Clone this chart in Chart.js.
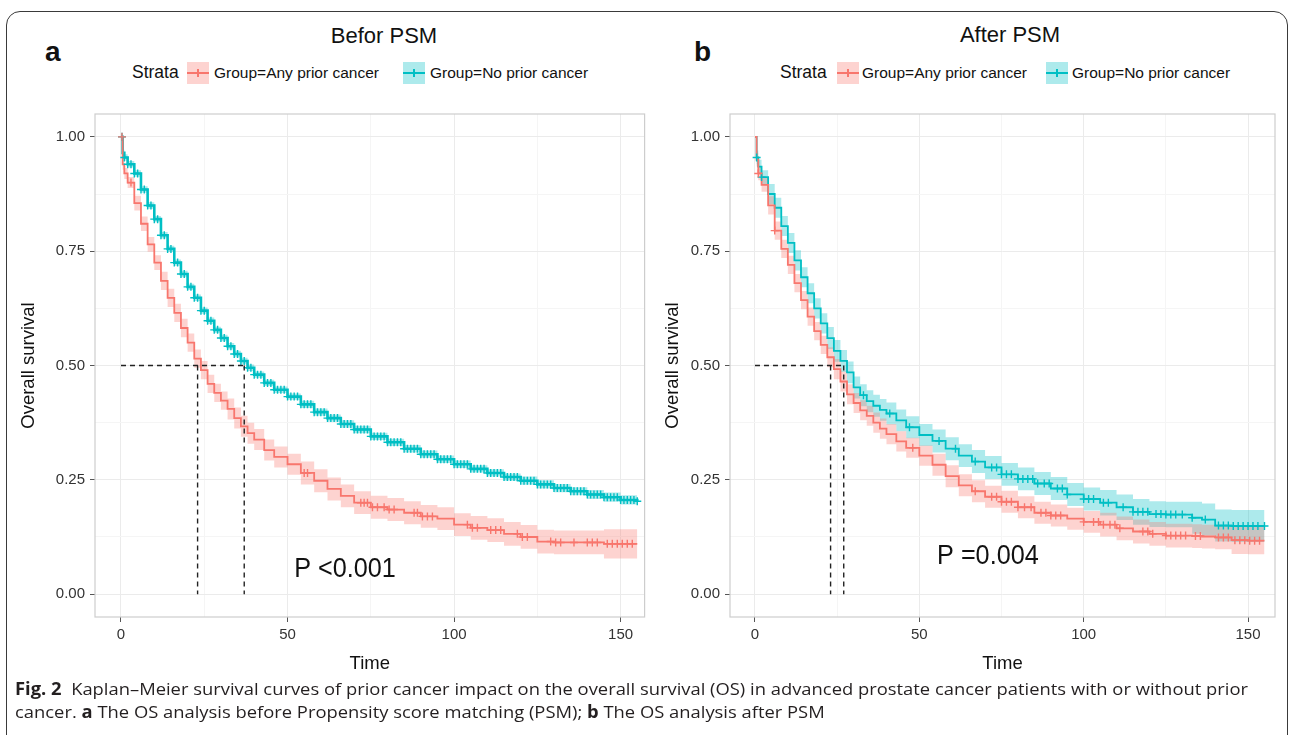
<!DOCTYPE html>
<html>
<head>
<meta charset="utf-8">
<script src="https://cdn.jsdelivr.net/npm/chart.js@4.4.1/dist/chart.umd.min.js"></script>
<style>
html, body { margin: 0; padding: 0; background: #fff; }
body { width: 1292px; height: 735px; position: relative; overflow: hidden; font-family: "Liberation Sans", Arial, sans-serif; color: #111; }
.frame { position: absolute; left: 6px; top: 11px; width: 1282px; height: 740px; border: 1.3px solid #3a3a3a; border-radius: 14px; box-sizing: border-box; }
.t { position: absolute; white-space: nowrap; line-height: 1; transform: translateY(-50%); }
.c { transform: translate(-50%, -50%); }
.tag { font-weight: bold; font-size: 28px; }
.title { font-size: 22px; }
.strata { font-size: 17.5px; }
.ltxt { font-size: 15.5px; }
.sw { position: absolute; width: 22px; height: 22px; top: 62px; }
.sw i { position: absolute; left: 0; right: 0; top: 10px; height: 2px; }
.sw b { position: absolute; left: 10px; width: 2px; top: 7px; height: 8px; }
canvas { position: absolute; top: 100px; }
.cap { position: absolute; left: 15px; white-space: nowrap; line-height: 1; font-family: "Open Sans", sans-serif; font-size: 17px; color: #231f20; transform-origin: 0 50%; }
</style>
</head>
<body>
<div class="frame"></div>

<div class="t tag" style="left:45px; top:52px;">a</div>
<div class="t c title" style="left:384px; top:36px;">Befor PSM</div>
<div class="t strata" style="left:132px; top:73px;">Strata</div>
<div class="sw" style="left:187px; background:rgba(248,118,109,0.32);"><i style="background:#F8766D"></i><b style="background:#F8766D"></b></div>
<div class="t ltxt" style="left:214px; top:73px;">Group=Any prior cancer</div>
<div class="sw" style="left:403px; background:rgba(0,191,196,0.32);"><i style="background:#00BFC4"></i><b style="background:#00BFC4"></b></div>
<div class="t ltxt" style="left:430px; top:73px;">Group=No prior cancer</div>

<div class="t tag" style="left:694px; top:52px;">b</div>
<div class="t c title" style="left:1010px; top:35px;">After PSM</div>
<div class="t strata" style="left:780px; top:73px;">Strata</div>
<div class="sw" style="left:837px; background:rgba(248,118,109,0.32);"><i style="background:#F8766D"></i><b style="background:#F8766D"></b></div>
<div class="t ltxt" style="left:862px; top:73px;">Group=Any prior cancer</div>
<div class="sw" style="left:1046px; background:rgba(0,191,196,0.32);"><i style="background:#00BFC4"></i><b style="background:#00BFC4"></b></div>
<div class="t ltxt" style="left:1072px; top:73px;">Group=No prior cancer</div>

<canvas id="chartA" width="650" height="580" style="left:0px;"></canvas>
<canvas id="chartB" width="650" height="580" style="left:635px;"></canvas>

<div class="cap" id="cap1" style="top:680px;"><b>Fig. 2</b>&nbsp; Kaplan–Meier survival curves of prior cancer impact on the overall survival (OS) in advanced prostate cancer patients with or without prior</div>
<div class="cap" id="cap2" style="top:703px;">cancer. <b>a</b> The OS analysis before Propensity score matching (PSM); <b>b</b> The OS analysis after PSM</div>

<script>
// 坐標軸刻度
const xTicks = [0, 25, 50, 75, 100, 125, 150];
const yTicks = [0, 0.125, 0.25, 0.375, 0.5, 0.625, 0.75, 0.875, 1];

// a: Befor PSM
const timeA = [0, 0.5, 1, 2, 4, 6, 8, 10, 12, 14, 16, 18, 20, 22, 24, 26, 28, 30, 32, 34, 36, 38, 40, 43, 46, 50, 54, 58, 62, 66, 70, 75, 80, 85, 90, 95, 100, 105, 110, 115, 120, 125, 130, 135, 140, 145, 150, 155];
const anyA   = [1, 0.94, 0.92, 0.9, 0.855, 0.81, 0.765, 0.725, 0.685, 0.648, 0.615, 0.582, 0.55, 0.515, 0.49, 0.46, 0.44, 0.423, 0.405, 0.385, 0.367, 0.352, 0.338, 0.315, 0.3, 0.284, 0.265, 0.248, 0.23, 0.215, 0.2, 0.19, 0.185, 0.178, 0.17, 0.165, 0.152, 0.145, 0.14, 0.132, 0.125, 0.115, 0.113, 0.113, 0.113, 0.11, 0.11, 0.11];
const anyALo = [1, 0.928, 0.908, 0.888, 0.839, 0.794, 0.749, 0.709, 0.665, 0.628, 0.595, 0.562, 0.53, 0.495, 0.47, 0.44, 0.42, 0.403, 0.382, 0.362, 0.344, 0.329, 0.315, 0.292, 0.277, 0.261, 0.24, 0.223, 0.205, 0.19, 0.175, 0.165, 0.16, 0.153, 0.145, 0.14, 0.127, 0.119, 0.114, 0.106, 0.099, 0.089, 0.087, 0.087, 0.087, 0.078, 0.078, 0.078];
const anyAHi = [1, 0.952, 0.932, 0.912, 0.871, 0.826, 0.781, 0.741, 0.705, 0.668, 0.635, 0.602, 0.57, 0.535, 0.51, 0.48, 0.46, 0.443, 0.428, 0.408, 0.39, 0.375, 0.361, 0.338, 0.323, 0.307, 0.29, 0.273, 0.255, 0.24, 0.225, 0.215, 0.21, 0.203, 0.195, 0.19, 0.177, 0.171, 0.166, 0.158, 0.151, 0.141, 0.139, 0.139, 0.139, 0.142, 0.142, 0.142];
const noA    = [1, 0.965, 0.955, 0.94, 0.92, 0.885, 0.85, 0.82, 0.785, 0.755, 0.725, 0.7, 0.672, 0.648, 0.62, 0.598, 0.578, 0.56, 0.542, 0.525, 0.51, 0.495, 0.48, 0.462, 0.447, 0.432, 0.415, 0.398, 0.385, 0.372, 0.36, 0.345, 0.332, 0.318, 0.306, 0.295, 0.284, 0.274, 0.265, 0.256, 0.248, 0.24, 0.232, 0.225, 0.218, 0.212, 0.206, 0.203];
const noALo  = [1, 0.958, 0.948, 0.933, 0.913, 0.878, 0.843, 0.813, 0.778, 0.748, 0.718, 0.693, 0.665, 0.641, 0.613, 0.591, 0.571, 0.553, 0.535, 0.518, 0.503, 0.488, 0.473, 0.455, 0.44, 0.425, 0.407, 0.39, 0.377, 0.364, 0.352, 0.337, 0.324, 0.31, 0.298, 0.287, 0.276, 0.266, 0.257, 0.248, 0.239, 0.231, 0.223, 0.216, 0.208, 0.202, 0.196, 0.193];
const noAHi  = [1, 0.972, 0.962, 0.947, 0.927, 0.892, 0.857, 0.827, 0.792, 0.762, 0.732, 0.707, 0.679, 0.655, 0.627, 0.605, 0.585, 0.567, 0.549, 0.532, 0.517, 0.502, 0.487, 0.469, 0.454, 0.439, 0.423, 0.406, 0.393, 0.38, 0.368, 0.353, 0.34, 0.326, 0.314, 0.303, 0.292, 0.282, 0.273, 0.264, 0.257, 0.249, 0.241, 0.234, 0.228, 0.222, 0.216, 0.213];
const censorAnyA = [0.3, 3, 55, 56, 72, 73, 74, 75.5, 77, 79, 80.5, 82, 88, 89, 90.5, 92, 93.5, 104, 105.5, 107, 111, 112.5, 114, 119, 120.5, 122, 129, 130.5, 132, 136, 140, 141.5, 143, 146, 147.5, 149, 150.5, 152, 153.5];
const censorNoA = [0.3, 1, 2, 3, 4, 5, 6, 7, 8, 9, 10, 11, 12, 13, 14, 15, 16, 17, 18, 19, 20, 21, 22, 23, 24, 25, 26, 27, 28, 29, 30, 31, 32, 33, 34, 35, 36, 37, 38, 39, 40, 41, 42, 43, 44, 45, 46, 47, 48, 49, 50, 51, 52, 53, 54, 55, 56, 57, 58, 59, 60, 61, 62, 63, 64, 65, 66, 67, 68, 69, 70, 71, 72, 73, 74, 75, 76, 77, 78, 79, 80, 81, 82, 83, 84, 85, 86, 87, 88, 89, 90, 91, 92, 93, 94, 95, 96, 97, 98, 99, 100, 101, 102, 103, 104, 105, 106, 107, 108, 109, 110, 111, 112, 113, 114, 115, 116, 117, 118, 119, 120, 121, 122, 123, 124, 125, 126, 127, 128, 129, 130, 131, 132, 133, 134, 135, 136, 137, 138, 139, 140, 141, 142, 143, 144, 145, 146, 147, 148, 149, 150, 151, 152, 153, 154, 155];
const medianA = [23, 37];

// b: After PSM
const timeB = [0, 0.5, 1, 2, 4, 6, 8, 10, 12, 14, 16, 18, 20, 22, 24, 26, 28, 30, 32, 34, 36, 38, 40, 43, 46, 50, 54, 58, 62, 66, 70, 75, 80, 85, 90, 95, 100, 105, 110, 115, 120, 125, 130, 133, 136, 140, 145, 150, 155];
const anyB   = [1, 0.95, 0.92, 0.895, 0.85, 0.795, 0.755, 0.72, 0.68, 0.643, 0.607, 0.575, 0.545, 0.518, 0.492, 0.465, 0.437, 0.418, 0.402, 0.39, 0.375, 0.362, 0.35, 0.334, 0.32, 0.303, 0.283, 0.258, 0.238, 0.225, 0.213, 0.202, 0.19, 0.178, 0.172, 0.165, 0.158, 0.152, 0.144, 0.137, 0.132, 0.128, 0.128, 0.127, 0.126, 0.124, 0.118, 0.117, 0.117];
const anyBLo = [1, 0.935, 0.905, 0.88, 0.83, 0.775, 0.735, 0.7, 0.66, 0.623, 0.587, 0.555, 0.525, 0.496, 0.47, 0.443, 0.415, 0.396, 0.38, 0.368, 0.353, 0.34, 0.328, 0.312, 0.298, 0.281, 0.259, 0.234, 0.214, 0.201, 0.189, 0.178, 0.166, 0.154, 0.148, 0.141, 0.134, 0.126, 0.118, 0.111, 0.106, 0.102, 0.102, 0.101, 0.1, 0.098, 0.088, 0.087, 0.087];
const anyBHi = [1, 0.965, 0.935, 0.91, 0.87, 0.815, 0.775, 0.74, 0.7, 0.663, 0.627, 0.595, 0.565, 0.54, 0.514, 0.487, 0.459, 0.44, 0.424, 0.412, 0.397, 0.384, 0.372, 0.356, 0.342, 0.325, 0.307, 0.282, 0.262, 0.249, 0.237, 0.226, 0.214, 0.202, 0.196, 0.189, 0.182, 0.178, 0.17, 0.163, 0.158, 0.154, 0.154, 0.153, 0.152, 0.15, 0.148, 0.147, 0.147];
const noB    = [1, 0.955, 0.935, 0.912, 0.875, 0.845, 0.805, 0.768, 0.73, 0.693, 0.658, 0.625, 0.592, 0.56, 0.532, 0.51, 0.485, 0.452, 0.435, 0.422, 0.412, 0.403, 0.395, 0.38, 0.365, 0.348, 0.335, 0.318, 0.303, 0.29, 0.277, 0.262, 0.252, 0.242, 0.231, 0.218, 0.208, 0.2, 0.19, 0.18, 0.175, 0.174, 0.174, 0.167, 0.163, 0.15, 0.149, 0.149, 0.149];
const noBLo  = [1, 0.94, 0.92, 0.897, 0.853, 0.823, 0.783, 0.746, 0.708, 0.671, 0.636, 0.603, 0.57, 0.536, 0.508, 0.486, 0.461, 0.428, 0.411, 0.398, 0.388, 0.379, 0.371, 0.356, 0.341, 0.324, 0.31, 0.293, 0.278, 0.265, 0.252, 0.237, 0.227, 0.217, 0.206, 0.193, 0.183, 0.172, 0.162, 0.152, 0.147, 0.146, 0.146, 0.132, 0.128, 0.115, 0.114, 0.114, 0.114];
const noBHi  = [1, 0.97, 0.95, 0.927, 0.897, 0.867, 0.827, 0.79, 0.752, 0.715, 0.68, 0.647, 0.614, 0.584, 0.556, 0.534, 0.509, 0.476, 0.459, 0.446, 0.436, 0.427, 0.419, 0.404, 0.389, 0.372, 0.36, 0.343, 0.328, 0.315, 0.302, 0.287, 0.277, 0.267, 0.256, 0.243, 0.233, 0.228, 0.218, 0.208, 0.203, 0.202, 0.202, 0.202, 0.198, 0.185, 0.184, 0.184, 0.184];
const censorAnyB = [1, 6, 48, 67, 72, 73.5, 75, 76.5, 78, 80, 82, 84, 87, 88.5, 90, 91.5, 93, 100, 103, 104.5, 106, 108, 109.5, 111, 118, 119.5, 121, 125, 126.5, 128, 129.5, 131, 134, 135.5, 141, 142.5, 144, 146, 147.5, 149, 150.5, 152, 153.5];
const censorNoB = [0.5, 2, 33, 41, 47, 56, 61, 67, 72, 73.5, 75, 76.5, 78, 80, 81.5, 83, 84.5, 86, 88, 89.5, 92, 93.5, 95, 100, 101.5, 103, 106, 107.5, 112, 115, 116.5, 118, 119.5, 122, 123.5, 125, 126.5, 128, 130, 133, 137, 141, 142.5, 144, 145.5, 147, 148.5, 150, 151.5, 153, 155];
const medianB = [23, 27];

const RED = '#F8766D', TEAL = '#00BFC4';
const RED_BAND = 'rgba(248,118,109,0.32)', TEAL_BAND = 'rgba(0,191,196,0.32)';
const FONT = '"Liberation Sans", Arial, sans-serif';
Chart.defaults.font.family = FONT;

function pts(ts, ys) {
    return ts.map((t, i) => ({ x: t, y: ys[i] }));
}

// 取得某時間點的階梯值
function stepAt(ts, ys, t) {
    let v = ys[0];
    for (let i = 0; i < ts.length; i++) {
        if (ts[i] <= t) v = ys[i];
    }
    return v;
}

function bandSets(ts, lo, hi, color) {
    return [
        { data: pts(ts, hi), borderColor: 'rgba(0,0,0,0)', borderWidth: 0, pointRadius: 0, stepped: true, fill: false, order: 5 },
        { data: pts(ts, lo), borderColor: 'rgba(0,0,0,0)', borderWidth: 0, pointRadius: 0, stepped: true, fill: '-1', backgroundColor: color, order: 5 }
    ];
}

function curveSet(ts, ys, color, w) {
    return { data: pts(ts, ys), borderColor: color, borderWidth: w, pointRadius: 0, stepped: true, fill: false, order: 2 };
}

function censorSet(cs, ts, ys, color) {
    return {
        data: cs.map(t => ({ x: t, y: stepAt(ts, ys, t) })),
        showLine: false, pointStyle: 'cross', pointRadius: 4, pointBorderWidth: 1.4,
        borderColor: color, backgroundColor: color, order: 1
    };
}

function medianSets(meds) {
    let sets = [{ data: [{ x: 0, y: 0.5 }, { x: Math.max(...meds), y: 0.5 }] }];
    meds.forEach(m => sets.push({ data: [{ x: m, y: 0.5 }, { x: m, y: 0 }] }));
    return sets.map(s => Object.assign(s, { borderColor: '#222', borderWidth: 1.4, borderDash: [5, 4], pointRadius: 0, fill: false, order: 0 }));
}

// 面板邊框與 P 值
const panelDeco = {
    id: 'panelDeco',
    beforeDatasetsDraw(chart) {
        const { ctx, chartArea: a } = chart;
        ctx.save();
        ctx.strokeStyle = '#cdcdcd';
        ctx.lineWidth = 1.2;
        ctx.strokeRect(a.left, a.top, a.right - a.left, a.bottom - a.top);
        ctx.restore();
    },
    afterDatasetsDraw(chart, args, opts) {
        const { ctx, scales } = chart;
        ctx.save();
        ctx.translate(scales.x.getPixelForValue(opts.x), scales.y.getPixelForValue(opts.y));
        ctx.scale(0.9, 1);
        ctx.font = '28px ' + FONT;
        ctx.fillStyle = '#111';
        ctx.textAlign = 'left';
        ctx.textBaseline = 'middle';
        ctx.fillText(opts.text, 0, 0);
        ctx.restore();
    }
};

function makePanel(id, p) {
    let datasets = [
        ...medianSets(p.medians),
        censorSet(p.censorAny, p.time, p.any, RED),
        censorSet(p.censorNo, p.time, p.no, TEAL),
        curveSet(p.time, p.any, RED, 1.8),
        curveSet(p.time, p.no, TEAL, p.noWidth),
        ...bandSets(p.time, p.anyLo, p.anyHi, RED_BAND),
        ...bandSets(p.time, p.noLo, p.noHi, TEAL_BAND)
    ];

    new Chart(document.getElementById(id), {
        type: 'line',
        data: { datasets },
        plugins: [panelDeco],
        options: {
            responsive: false,
            animation: false,
            events: [],
            layout: { padding: { top: 10, right: p.padRight, left: 0, bottom: 0 } },
            plugins: {
                legend: { display: false },
                tooltip: { enabled: false },
                panelDeco: { text: p.pText, x: p.pX, y: p.pY }
            },
            scales: {
                x: {
                    type: 'linear',
                    min: p.xMin,
                    max: p.xMax,
                    afterBuildTicks: s => { s.ticks = xTicks.map(v => ({ value: v })); },
                    afterFit: s => { s.height = 63; },
                    border: { display: false },
                    grid: {
                        color: c => (c.tick && c.tick.value % 50 === 0) ? '#ebebeb' : '#f5f5f5',
                        tickColor: c => (c.tick && c.tick.value % 50 === 0) ? '#555' : 'rgba(0,0,0,0)',
                        tickLength: 5
                    },
                    ticks: {
                        autoSkip: false, maxRotation: 0, padding: 4,
                        color: '#333', font: { size: 15 },
                        callback: v => (v % 50 === 0 ? String(v) : '')
                    },
                    title: { display: true, text: 'Time', color: '#111', font: { size: 18.5 }, padding: { top: 0, bottom: 4.5 } }
                },
                y: {
                    type: 'linear',
                    min: -0.05,
                    max: 1.05,
                    afterBuildTicks: s => { s.ticks = yTicks.map(v => ({ value: v })); },
                    afterFit: s => { s.width = 95; },
                    border: { display: false },
                    grid: {
                        color: c => (c.tick && Math.round(c.tick.value * 1000) % 250 === 0) ? '#ebebeb' : '#f5f5f5',
                        tickColor: c => (c.tick && Math.round(c.tick.value * 1000) % 250 === 0) ? '#555' : 'rgba(0,0,0,0)',
                        tickLength: 5
                    },
                    ticks: {
                        autoSkip: false, padding: 5,
                        color: '#333', font: { size: 15 },
                        callback: v => (Math.round(v * 1000) % 250 === 0 ? v.toFixed(2) : '')
                    },
                    title: { display: true, text: 'Overall survival', color: '#111', font: { size: 18.5 }, padding: { top: p.yTitlePad, bottom: 0 } }
                }
            }
        }
    });
}

makePanel('chartA', {
    time: timeA, any: anyA, anyLo: anyALo, anyHi: anyAHi, no: noA, noLo: noALo, noHi: noAHi,
    censorAny: censorAnyA, censorNo: censorNoA, medians: medianA, noWidth: 2.6,
    pText: 'P <0.001', pX: 52, pY: 0.054,
    xMin: -7.8, xMax: 157.2, padRight: 5, yTitlePad: 18
});

makePanel('chartB', {
    time: timeB, any: anyB, anyLo: anyBLo, anyHi: anyBHi, no: noB, noLo: noBLo, noHi: noBHi,
    censorAny: censorAnyB, censorNo: censorNoB, medians: medianB, noWidth: 1.8,
    pText: 'P =0.004', pX: 55.4, pY: 0.082,
    xMin: -7.6, xMax: 158.2, padRight: 10, yTitlePad: 27
});

// 圖說寬度對齊
let cap1 = document.getElementById('cap1');
let cap2 = document.getElementById('cap2');
let k = 1233 / cap1.getBoundingClientRect().width;
cap1.style.transform = 'scaleX(' + k + ')';
cap2.style.transform = 'scaleX(' + k + ')';
</script>
</body>
</html>
